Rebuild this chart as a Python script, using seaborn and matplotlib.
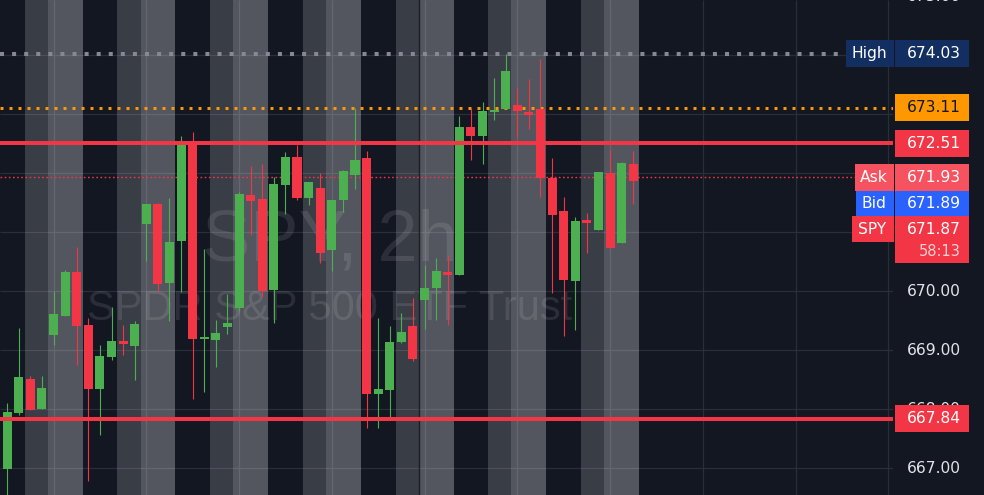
#!/usr/bin/env python3
import itertools

import matplotlib
matplotlib.use("Agg")
import matplotlib.pyplot as plt
import matplotlib.transforms as mtransforms
from matplotlib.patches import Rectangle
import seaborn as sns

OUT = "out.png"

# SPY 2h candles, oldest first
OPEN = [666.99, 667.94, 668.51, 668.01, 669.26, 669.58, 670.33, 669.43, 668.35, 668.89,
        669.16, 669.07, 671.14, 671.48, 670.14, 670.85, 672.50, 669.19, 669.18, 669.40,
        669.72, 671.63, 671.57, 670.02, 671.80, 672.28, 671.58, 671.75, 670.70, 671.55,
        671.97, 672.26, 668.26, 668.33, 669.14, 669.41, 669.85, 670.06, 670.33, 670.28,
        672.79, 672.63, 673.04, 673.09, 673.16, 673.04, 673.09, 671.92, 671.36, 670.18,
        671.21, 671.04, 672.01, 670.82, 672.16]
HIGH = [668.11, 669.38, 668.56, 668.56, 670.01, 670.36, 670.75, 669.55, 669.09, 669.73,
        669.43, 669.50, 671.48, 671.50, 671.58, 672.63, 672.70, 670.72, 669.51, 669.96,
        671.68, 672.12, 672.16, 671.94, 672.36, 672.48, 671.85, 672.01, 671.55, 672.06,
        673.11, 672.38, 669.55, 669.41, 669.63, 669.89, 670.45, 670.57, 670.62, 672.97,
        673.11, 673.21, 673.62, 674.03, 673.45, 673.60, 673.94, 672.26, 671.60, 671.26,
        671.33, 672.03, 672.40, 672.19, 672.38]
LOW = [666.40, 667.90, 667.98, 668.00, 669.09, 669.58, 668.75, 666.79, 667.57, 668.84,
       668.92, 668.50, 670.51, 670.01, 669.50, 669.99, 668.18, 668.29, 668.72, 669.28,
       669.67, 670.96, 669.90, 669.46, 671.31, 671.55, 671.46, 670.48, 670.35, 671.35,
       671.73, 667.68, 667.68, 667.82, 669.12, 668.82, 669.36, 669.51, 669.43, 670.28,
       672.23, 672.16, 672.90, 673.09, 672.62, 672.75, 671.60, 669.97, 669.24, 669.35,
       670.65, 671.04, 670.73, 670.82, 671.48]
CLOSE = [667.96, 668.55, 667.99, 668.36, 669.62, 670.33, 669.41, 668.35, 668.90, 669.16,
         669.11, 669.45, 671.48, 670.12, 670.84, 672.51, 669.19, 669.23, 669.29, 669.46,
         671.65, 671.53, 670.01, 671.82, 672.28, 671.58, 671.85, 670.65, 671.55, 672.04,
         672.23, 668.26, 668.35, 669.14, 669.31, 668.85, 670.06, 670.35, 670.28, 672.79,
         672.63, 673.06, 673.07, 673.73, 673.06, 672.99, 671.92, 671.29, 670.19, 671.19,
         671.16, 672.03, 670.73, 672.18, 671.87]

# session shading per bar, starting one bar before the first candle
# D = none, M = mid grey, L = light grey
SHADE = "DDDMMLLLDDDMMLLLDDDMMLLLDDDMMLLLDDDMMLLLDDDMMLLLDDDMMLLL"
SHADE_START = -1
SESSION_BREAK = 35.5

PRICE_GRID = [667, 668, 669, 670, 671, 672, 673, 674, 675]
# scale labels not hidden behind a price tag
PRICE_LABELS = [667, 668, 669, 670, 675]
GRID_BARS = [4, 12, 20, 28, 36, 44, 52, 60, 68, 76]

DAY_HIGH = 674.03
ORANGE_LEVEL = 673.11
LEVEL_TOP = 672.51
LEVEL_BOTTOM = 667.84
ASK = 671.93
BID = 671.89
LAST = 671.87
COUNTDOWN = "58:13"
TITLE = "SPY, 2h"
DESCRIPTION = "SPDR S&P 500 ETF Trust"

BG = "#131722"
UP = "#4caf50"
DOWN = "#f23645"
ORANGE = "#ff9800"
ASK_C = "#f7525f"
BID_C = "#2962ff"
HIGH_C = "#132f61"
GRID_C = "#2a2e39"
TXT = "#e1e3e8"

W, H = 984, 495
PLOT_RIGHT = 893
XLIM = (-0.621, 76.41)
YLIM = (666.547, 674.937)
SCALE_FONT = ["DejaVu Sans"]
FS = 11.2


def main():
    sns.set_theme(style="dark", rc={"figure.facecolor": BG, "axes.facecolor": BG})
    plt.rcParams["font.family"] = ["Liberation Sans", "DejaVu Sans"]

    fig = plt.figure(figsize=(W / 100, H / 100), dpi=100)
    ax = fig.add_axes([0, 0, PLOT_RIGHT / W, 1])
    ax.set_xlim(*XLIM)
    ax.set_ylim(*YLIM)
    ax.axis("off")

    ppu = H / (YLIM[1] - YLIM[0])  # pixels per dollar
    tr = mtransforms.blended_transform_factory(fig.transFigure, ax.transData)

    def fx(px):
        return px / W

    # grid
    ax.hlines(PRICE_GRID, XLIM[0], XLIM[1], color=GRID_C, lw=0.9, zorder=1)
    ax.vlines(GRID_BARS, YLIM[0], YLIM[1], color=GRID_C, lw=0.9, zorder=1)

    # watermark
    ax.text(330 / PLOT_RIGHT, 1 - 261 / H, TITLE, transform=ax.transAxes, ha="center",
            va="baseline", fontsize=52, color="white", alpha=0.10, zorder=2)
    ax.text(330 / PLOT_RIGHT, 1 - 320 / H, DESCRIPTION, transform=ax.transAxes, ha="center",
            va="baseline", fontsize=30, color="white", alpha=0.10, zorder=2)

    # session backgrounds
    alphas = {"M": 0.165, "L": 0.275}
    pos = SHADE_START
    for code, run in itertools.groupby(SHADE):
        n = len(list(run))
        if code in alphas:
            ax.axvspan(pos - 0.5, pos + n - 0.5, color="white", alpha=alphas[code], lw=0, zorder=3)
        pos += n
    ax.axvline(SESSION_BREAK, color="#1b1e27", lw=1.0, zorder=3.5)

    # level lines
    ax.axhline(DAY_HIGH, xmin=0, xmax=838 / PLOT_RIGHT, color="#868993", lw=2.9,
               ls=(0, (1, 2)), zorder=4)
    ax.axhline(ORANGE_LEVEL, color=ORANGE, lw=2.16, ls=(0, (1, 2)), zorder=4)
    ax.axhline(ASK, xmin=0, xmax=855 / PLOT_RIGHT, color=DOWN, lw=1.0,
               ls=(0, (1.2, 1.8)), zorder=4)

    # candles
    for i, (o, h, l, c) in enumerate(zip(OPEN, HIGH, LOW, CLOSE)):
        col = UP if c >= o else DOWN
        ax.vlines(i, l, h, color=col, lw=0.8, zorder=5)
        ax.bar(i, max(abs(c - o), 0.03), bottom=min(o, c), width=0.78, color=col, lw=0, zorder=6)

    ax.axhline(LEVEL_TOP, color=DOWN, lw=2.9, zorder=7)
    ax.axhline(LEVEL_BOTTOM, color=DOWN, lw=2.9, zorder=7)

    # price scale
    for p in PRICE_LABELS:
        ax.text(fx(961), p, f"{p:.2f}", transform=tr, ha="right", va="center",
                fontsize=FS, family=SCALE_FONT, color=TXT, clip_on=False, zorder=8)

    def box(x0, x1, top, h_px, color):
        ax.add_patch(Rectangle((fx(x0), top - h_px / ppu), fx(x1) - fx(x0), h_px / ppu,
                               transform=tr, facecolor=color, lw=0, clip_on=False, zorder=9))

    def value(y, s, color="white", size=FS):
        ax.text(fx(961), y, s, transform=tr, ha="right", va="center", fontsize=size,
                family=SCALE_FONT, color=color, clip_on=False, zorder=10)

    def tag(xc, y, s):
        ax.text(fx(xc), y, s, transform=tr, ha="center", va="center", fontsize=FS,
                family=SCALE_FONT, color="white", clip_on=False, zorder=10)

    bh = 26.7
    half = bh / 2 / ppu
    # High
    box(846, 893.5, DAY_HIGH + half, bh, HIGH_C)
    box(895, 968.5, DAY_HIGH + half, bh, HIGH_C)
    tag(869, DAY_HIGH, "High")
    value(DAY_HIGH, f"{DAY_HIGH:.2f}")
    # orange level
    box(895, 968.5, ORANGE_LEVEL + half, bh, ORANGE)
    value(ORANGE_LEVEL, f"{ORANGE_LEVEL:.2f}", color="#131722")
    # red levels
    box(895, 968.5, LEVEL_TOP + half, bh, DOWN)
    value(LEVEL_TOP, f"{LEVEL_TOP:.2f}")
    box(895, 968.5, LEVEL_BOTTOM + half, bh, DOWN)
    value(LEVEL_BOTTOM, f"{LEVEL_BOTTOM:.2f}")
    # ask / bid / last, stacked under each other
    y_ask = ASK
    y_bid = y_ask - 26.0 / ppu
    y_last = y_ask - 51.6 / ppu
    box(855, 893.5, y_ask + half, bh, ASK_C)
    box(895, 968.5, y_ask + half, bh, ASK_C)
    tag(874, y_ask, "Ask")
    value(y_ask, f"{ASK:.2f}")
    box(856, 893.5, y_bid + 12.7 / ppu, 25.3, BID_C)
    box(895, 968.5, y_bid + 12.7 / ppu, 25.3, BID_C)
    tag(874, y_bid, "Bid")
    value(y_bid, f"{BID:.2f}")
    box(852, 893.5, y_last + 13 / ppu, 26, DOWN)
    box(895, 968.5, y_last + 13 / ppu, 46.7, DOWN)
    tag(872, y_last, "SPY")
    value(y_last, f"{LAST:.2f}")
    value(y_last - 22 / ppu, COUNTDOWN, color="#fcd2d5", size=10.5)

    fig.savefig(OUT, dpi=100, facecolor=BG)


if __name__ == "__main__":
    main()
